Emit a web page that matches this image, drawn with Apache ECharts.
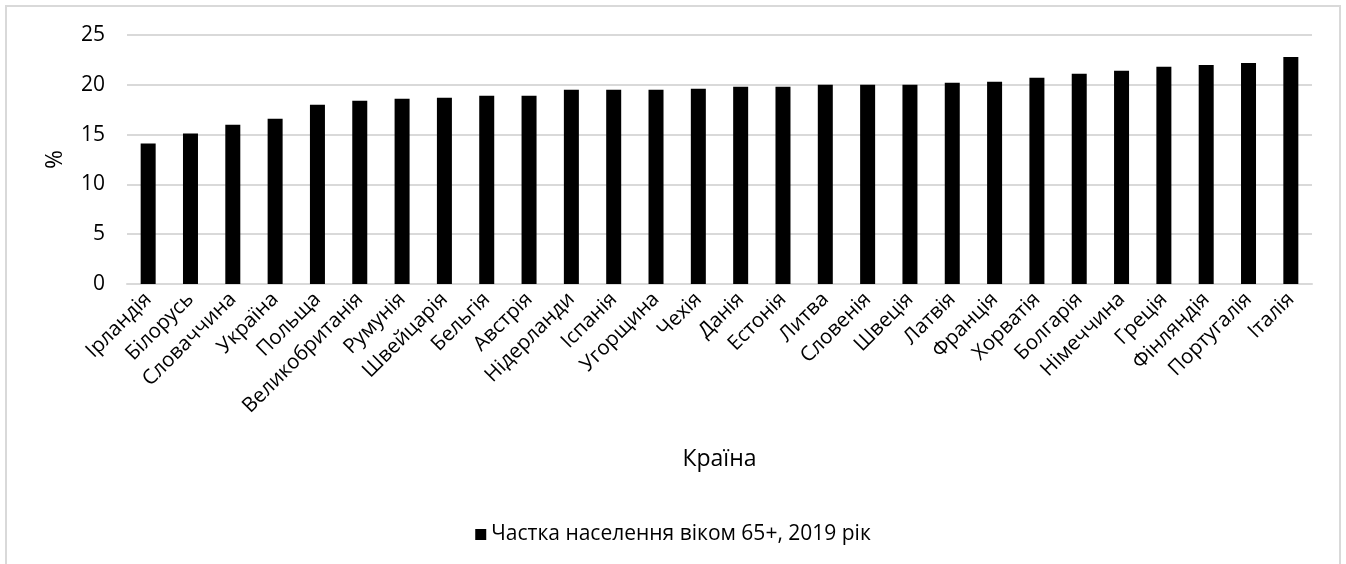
<!DOCTYPE html>
<html>
<head>
<meta charset="utf-8">
<script src="https://cdn.jsdelivr.net/npm/echarts@6/dist/echarts.min.js"></script>
<style>
  html, body { margin: 0; padding: 0; background: #fff; }
  #chart { width: 1346px; height: 564px; }
</style>
</head>
<body>
<div id="chart"></div>
<script>
// Частка населення віком 65+ у країнах Європи, 2019 рік (%)
const countries = [
  'Ірландія', 'Білорусь', 'Словаччина', 'Україна', 'Польща', 'Великобританія',
  'Румунія', 'Швейцарія', 'Бельгія', 'Австрія', 'Нідерланди', 'Іспанія',
  'Угорщина', 'Чехія', 'Данія', 'Естонія', 'Литва', 'Словенія', 'Швеція',
  'Латвія', 'Франція', 'Хорватія', 'Болгарія', 'Німеччина', 'Греція',
  'Фінляндія', 'Португалія', 'Італія'
];
const share65 = [
  14.1, 15.1, 16.0, 16.6, 18.0, 18.4,
  18.6, 18.7, 18.9, 18.9, 19.5, 19.5,
  19.5, 19.6, 19.8, 19.8, 20.0, 20.0, 20.0,
  20.2, 20.3, 20.7, 21.1, 21.4, 21.8,
  22.0, 22.2, 22.8
];
const seriesName = 'Частка населення віком 65+, 2019 рік';
const yTicks = { min: 0, max: 25, interval: 5 };

const FONT = 'Open Sans';
const chart = echarts.init(document.getElementById('chart'), null, { renderer: 'canvas' });

chart.setOption({
  animation: false,
  backgroundColor: '#fff',
  textStyle: { fontFamily: FONT, color: '#000' },
  graphic: [{
    type: 'rect',
    shape: { x: 6, y: 6, width: 1334, height: 580 },
    style: { fill: 'none', stroke: '#d9d9d9', lineWidth: 2 },
    silent: true,
    z: -1
  }],
  grid: { left: 127, right: 34, top: 35, bottom: 280, containLabel: false },
  legend: {
    bottom: 14,
    left: 'center',
    icon: 'rect',
    itemWidth: 11,
    itemHeight: 11,
    itemGap: 6,
    textStyle: { fontFamily: FONT, fontSize: 21, color: '#000' },
    data: [seriesName]
  },
  xAxis: {
    type: 'category',
    data: countries,
    name: 'Країна',
    nameLocation: 'middle',
    nameGap: 164,
    nameTextStyle: { fontFamily: FONT, fontSize: 23, color: '#000' },
    axisLine: { lineStyle: { color: '#d9d9d9', width: 2 } },
    axisTick: { show: false },
    axisLabel: {
      interval: 0,
      rotate: 45,
      margin: 12,
      fontFamily: FONT,
      fontSize: 20.5,
      color: '#000'
    }
  },
  yAxis: {
    type: 'value',
    min: yTicks.min,
    max: yTicks.max,
    interval: yTicks.interval,
    name: '%',
    nameLocation: 'middle',
    nameGap: 60,
    nameRotate: 90,
    nameTextStyle: { fontFamily: FONT, fontSize: 23, color: '#000' },
    axisLine: { show: false },
    axisTick: { show: false },
    axisLabel: { margin: 22, fontFamily: FONT, fontSize: 21, color: '#000' },
    splitLine: { lineStyle: { color: '#d9d9d9', width: 2 } }
  },
  series: [{
    name: seriesName,
    type: 'bar',
    data: share65,
    barWidth: 15,
    itemStyle: { color: '#000' }
  }]
});
</script>
</body>
</html>
